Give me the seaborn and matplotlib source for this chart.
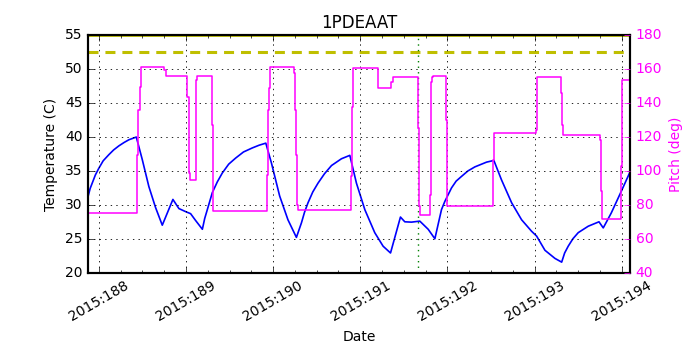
import numpy as np
import pandas as pd
import matplotlib
matplotlib.use("Agg")
import matplotlib.pyplot as plt
from matplotlib.ticker import MultipleLocator
import seaborn as sns

# Temperature telemetry (day of year 2015, deg C)
temp_day = [187.878, 187.9, 187.924, 187.96, 188.0, 188.05, 188.115, 188.17, 188.23, 188.29,
            188.345, 188.43, 188.498, 188.574,
            188.651, 188.728, 188.85, 188.919, 188.996, 189.053, 189.11, 189.188, 189.215,
            189.245, 189.302, 189.36, 189.417, 189.49, 189.57, 189.66, 189.762, 189.84,
            189.916, 189.98, 190.075, 190.17, 190.267,
            190.325, 190.36, 190.4, 190.455, 190.515, 190.59, 190.67, 190.784, 190.88,
            190.956, 191.052, 191.166,
            191.262, 191.347, 191.461, 191.511, 191.588, 191.683, 191.779, 191.856, 191.9,
            191.932, 191.97, 192.047, 192.1, 192.162, 192.235, 192.315, 192.449, 192.533,
            192.62, 192.737, 192.851,
            192.966, 193.023, 193.119, 193.234, 193.311, 193.345, 193.386, 193.44, 193.501,
            193.616, 193.739, 193.788, 193.88, 193.995, 194.09]
temp_c = [31.3, 32.4, 33.2, 34.4, 35.4, 36.5, 37.4, 38.1, 38.7, 39.2,
          39.6, 40.0, 36.7, 32.7,
          29.6, 27.0, 30.8, 29.45, 29.0, 28.7, 27.7, 26.4, 28.0,
          29.3, 31.8, 33.4, 34.7, 36.0, 36.9, 37.8, 38.4, 38.8,
          39.1, 36.2, 31.3, 27.8, 25.2,
          27.35, 28.9, 30.3, 31.9, 33.2, 34.6, 35.8, 36.8, 37.3,
          33.2, 29.3, 25.9,
          23.9, 22.9, 28.2, 27.5, 27.45, 27.6, 26.4, 25.0, 27.5,
          29.3, 30.5, 32.5, 33.5, 34.2, 35.0, 35.6, 36.3, 36.55,
          33.7, 30.3, 27.8,
          26.1, 25.4, 23.3, 22.1, 21.55, 22.9, 23.9, 25.0, 25.9,
          26.85, 27.5, 26.6, 28.8, 32.0, 34.7]

# Pitch (step changes)
pitch_day = [187.878, 188.441, 188.453, 188.468, 188.48, 188.747, 188.766, 189.015, 189.03,
             189.045, 189.11, 189.12, 189.13, 189.294, 189.305, 189.926, 189.94, 189.95,
             189.962, 190.24, 190.25, 190.262, 190.272, 190.282, 190.891, 190.9, 190.91,
             190.92, 191.205, 191.358, 191.372, 191.664, 191.672, 191.682, 191.798, 191.806,
             191.82, 191.835, 191.978, 191.99, 192.525, 192.537, 193.012, 193.03, 193.303,
             193.312, 193.322, 193.75, 193.76, 193.77, 193.988, 193.998, 194.09]
pitch_deg = [74.9, 109.6, 136.0, 149.8, 161.2, 159.5, 156.1, 143.9, 98.8,
             94.9, 106.6, 153.7, 156.1, 127.2, 76.2, 97.8, 136.1, 149.0,
             161.2, 157.6, 136.0, 109.6, 80.2, 77.2, 96.8, 121.4, 138.0,
             160.6, 148.8, 152.7, 155.3, 125.3, 79.2, 74.3, 86.1, 152.7,
             155.6, 156.2, 130.2, 79.2, 106.6, 122.4, 123.9, 155.3, 146.2,
             127.2, 121.4, 118.4, 88.0, 71.8, 102.7, 153.7, 153.7]

tick_days = [188, 189, 190, 191, 192, 193, 194]
tick_labels = ['2015:188', '2015:189', '2015:190', '2015:191', '2015:192', '2015:193', '2015:194']
planning_limit = 55.0
caution_limit = 52.5
event_day = 191.668

temp_df = pd.DataFrame({'day': temp_day, 'temp': temp_c})
pitch_df = pd.DataFrame({'day': pitch_day, 'pitch': pitch_deg})

MAGENTA = '#ff00ff'
YELLOW = '#bfbf00'

plt.style.use('classic')
plt.rcParams['font.family'] = ['DejaVu Sans']
plt.rcParams['font.size'] = 10

fig = plt.figure(figsize=(7, 3.5), dpi=100)
ax = fig.add_axes([0.126, 0.221, 0.774, 0.678])

sns.lineplot(data=temp_df, x='day', y='temp', ax=ax, color='#0000ff', lw=1.2,
             estimator=None, sort=False)
ax.axhline(planning_limit, color=YELLOW, lw=2)
ax.axhline(caution_limit, color=YELLOW, lw=2.2, linestyle=(0, (7.2, 5.0)))
ax.axvline(event_day, color='g', linestyle=':', lw=1)

ax.set_xlim(187.878, 194.095)
ax.set_ylim(20, 55)
ax.set_xticks(tick_days)
ax.set_xticklabels(tick_labels, rotation=30, fontsize=10)
ax.xaxis.set_minor_locator(MultipleLocator(0.25))
ax.tick_params(axis='y', labelsize=10)
ax.grid(True, color='k', linestyle=':', lw=0.6)
ax.set_xlabel('Date', fontsize=10)
ax.set_ylabel('Temperature (C)', fontsize=10)
ax.set_title('1PDEAAT', fontsize=12)

ax2 = ax.twinx()
sns.lineplot(data=pitch_df, x='day', y='pitch', ax=ax2, color=MAGENTA, lw=1.1,
             drawstyle='steps-post', estimator=None, sort=False)
ax2.set_ylim(40, 180)
ax2.set_xlim(187.878, 194.095)
ax2.set_ylabel('Pitch (deg)', color=MAGENTA, fontsize=10)
ax2.tick_params(axis='y', colors=MAGENTA, labelsize=10)
ax2.set_xlabel('')

for a in (ax, ax2):
    for s in a.spines.values():
        s.set_linewidth(1.5)

fig.savefig('out.png', dpi=100, facecolor='white')
